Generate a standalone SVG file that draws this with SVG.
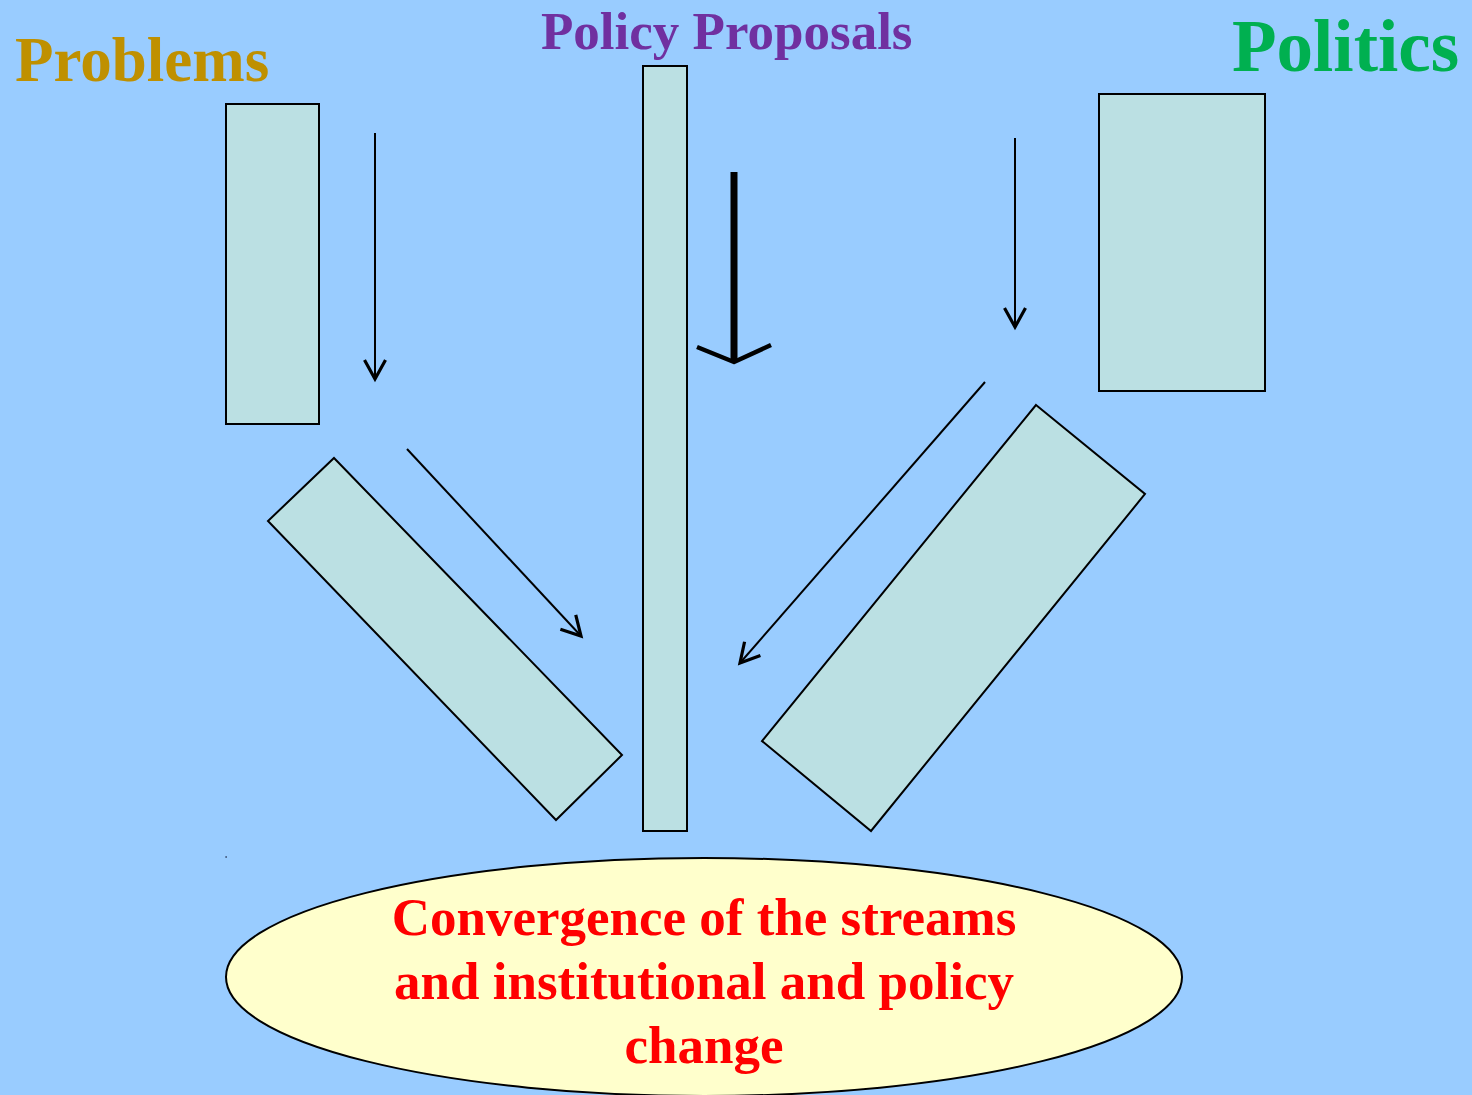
<svg xmlns="http://www.w3.org/2000/svg" width="1472" height="1095" viewBox="0 0 1472 1095">
<style>
.title{font-family:"Liberation Serif","Times New Roman",serif;font-weight:bold}
.box{fill:#BBE0E3;stroke:#000;stroke-width:2}
.conn{stroke:#000;stroke-width:2;fill:none}
.main{font-family:"Liberation Serif","Times New Roman",serif;font-weight:bold;font-size:53px;fill:#FF0000;text-anchor:middle}
</style>
<defs>
<marker id="open" markerUnits="userSpaceOnUse" markerWidth="40" markerHeight="40" refX="0" refY="0" orient="auto" overflow="visible">
<path d="M-19,-10.5 L0,0 L-19,10.5" fill="none" stroke="#000" stroke-width="3.2" stroke-linejoin="miter"/>
</marker>
</defs>
<rect width="1472" height="1095" fill="#99CCFF"/>
<g id="label-problems"><text class="title" x="15" y="81" font-size="63" fill="#BF9000">Problems</text></g>
<g id="label-proposals"><text class="title" x="541" y="49" font-size="53" fill="#7030A0">Policy Proposals</text></g>
<g id="label-politics"><text class="title" x="1232" y="71" font-size="73" fill="#00B050">Politics</text></g>
<g id="node-problems"><rect class="box" x="226" y="104" width="93" height="320"/></g>
<g id="node-politics"><rect class="box" x="1099" y="94" width="166" height="297"/></g>
<g id="node-proposals"><rect class="box" x="643" y="66" width="44" height="765"/></g>
<g id="node-problems-tilted"><polygon class="box" points="334,458 622,755 556,820 268,521"/></g>
<g id="node-politics-tilted"><polygon class="box" points="1036,405 1145,494 871,831 762,741"/></g>
<g id="connectors">
<line class="conn" x1="375" y1="133" x2="375" y2="379" marker-end="url(#open)"/>
<line class="conn" x1="1015" y1="138" x2="1015" y2="327" marker-end="url(#open)"/>
<line class="conn" x1="407" y1="449" x2="581" y2="636" marker-end="url(#open)"/>
<line class="conn" x1="985" y1="382" x2="740" y2="663" marker-end="url(#open)"/>
<line x1="734" y1="172" x2="734" y2="360" stroke="#000" stroke-width="7"/>
<polyline points="697,347 734,362 771,345" fill="none" stroke="#000" stroke-width="4.5" stroke-linejoin="round"/>
</g>
<rect x="225.5" y="856" width="1.2" height="2" fill="#334466"/>
<g id="node-convergence">
<ellipse cx="704" cy="977" rx="478" ry="119" fill="#FFFFCC" stroke="#000" stroke-width="2"/>
<text class="main" x="704" y="935">Convergence of the streams</text>
<text class="main" x="704" y="999">and institutional and policy</text>
<text class="main" x="704" y="1063">change</text>
</g>
</svg>
